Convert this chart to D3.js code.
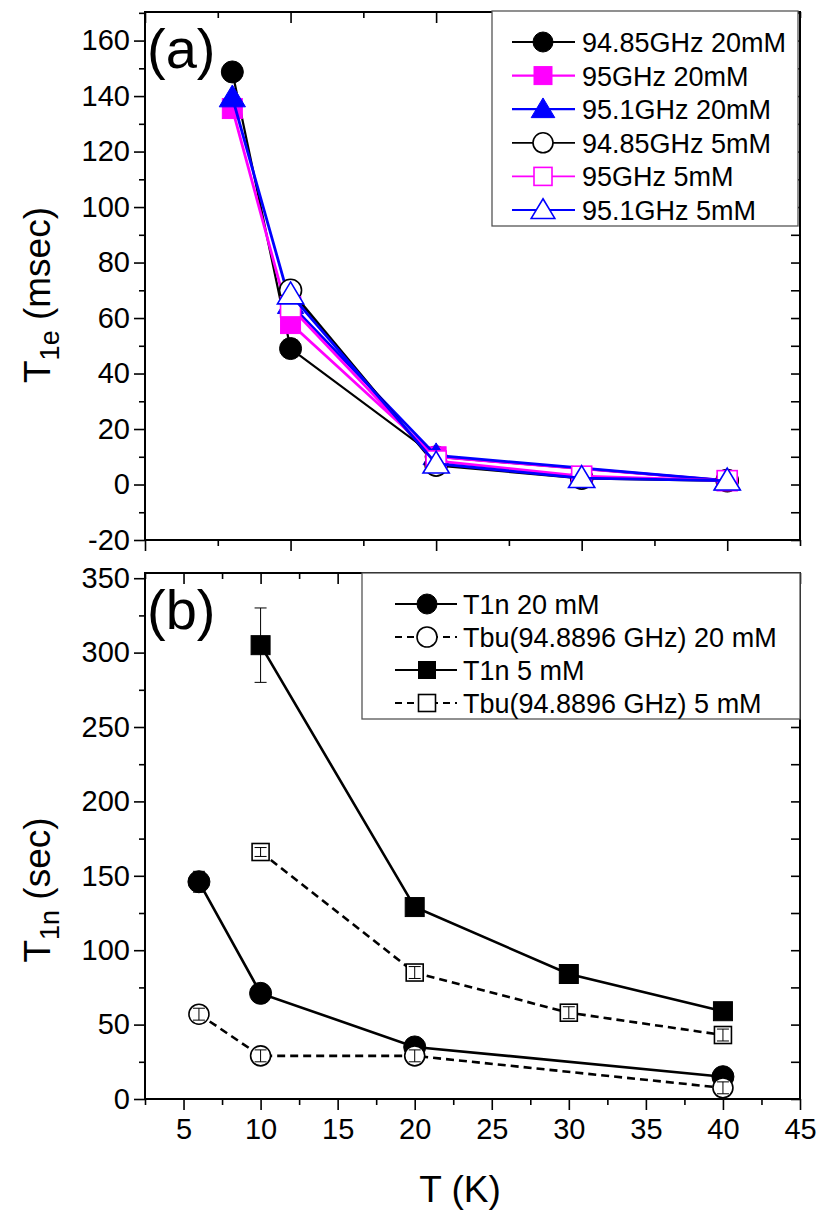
<!DOCTYPE html>
<html>
<head>
<meta charset="utf-8">
<script src="https://cdn.jsdelivr.net/npm/d3@7"></script>
<style>
  body { margin: 0; background: #fff; }
  text { font-family: "Liberation Sans", Arial, sans-serif; fill: #000; }
</style>
</head>
<body>
<script>
const width = 820;
const height = 1214;

// ---- data, panel (a): T1e (msec) ----
const tA20 = [6, 10, 20, 40];
const tA5 = [10, 20, 30, 40];
const t1e_9485_20 = [148.7, 49, 10, 1.4];
const t1e_95_20 = [135.5, 58, 10, 1.4];
const t1e_951_20 = [139.5, 65, 10.5, 1.4];
const t1e_9485_5 = [70, 7, 2.3, 1.4];
const t1e_95_5 = [64, 8.5, 3, 1.4];
const t1e_951_5 = [68.5, 7.5, 2.3, 1.4];
const legendA = ["94.85GHz 20mM", "95GHz 20mM", "95.1GHz 20mM", "94.85GHz 5mM", "95GHz 5mM", "95.1GHz 5mM"];

// ---- data, panel (b): T1n (sec) ----
const tB20 = [6, 10, 20, 40];
const tB5 = [10, 20, 30, 40];
const t1n_20 = [146, 71, 35, 15];
const t1n_20_err = [7, 3, 3, 2];
const tbu_20 = [57, 29, 29, 7.5];
const tbu_20_err = [4, 4, 4, 4];
const t1n_5 = [305, 129, 84, 59];
const t1n_5_err = [25, 3, 6, 3];
const tbu_5 = [166, 85, 58, 43];
const tbu_5_err = [3, 4, 4, 4];
const legendB = ["T1n 20 mM", "Tbu(94.8896 GHz) 20 mM", "T1n 5 mM", "Tbu(94.8896 GHz) 5 mM"];

const xTicksB = [5, 10, 15, 20, 25, 30, 35, 40, 45];
const yTicksA = [-20, 0, 20, 40, 60, 80, 100, 120, 140, 160];
const yTicksB = [0, 50, 100, 150, 200, 250, 300, 350];

const svg = d3.select("body").append("svg")
  .attr("width", width)
  .attr("height", height);

// panel frames
const pA = {left: 145, right: 800, top: 12, bottom: 540};
const pB = {left: 145, right: 800, top: 573, bottom: 1099};

const xA = d3.scaleLinear().domain([0, 45]).range([pA.left, pA.right]);
const yA = d3.scaleLinear().domain([-20, 170.3]).range([pA.bottom, pA.top]);
const xB = d3.scaleLinear().domain([2.5, 45]).range([pB.left, pB.right]);
const yB = d3.scaleLinear().domain([0, 353.5]).range([pB.bottom, pB.top]);

const tickFont = 29;
const fmt = d => String(d);  // plain hyphen for negatives, like the original

function frame(p, x, y, xMajor, xMinor, yMajor, yMinor, xLabels) {
  const g = svg.append("g");
  // bottom axis (ticks out)
  g.append("g").attr("transform", `translate(0,${p.bottom})`)
    .call(d3.axisBottom(x).tickValues(xMinor).tickSize(6).tickFormat(""));
  g.append("g").attr("transform", `translate(0,${p.bottom})`)
    .call(d3.axisBottom(x).tickValues(xMajor).tickSize(11).tickPadding(8)
      .tickFormat(xLabels ? fmt : ""));
  // left axis (ticks out)
  g.append("g").attr("transform", `translate(${p.left},0)`)
    .call(d3.axisLeft(y).tickValues(yMinor).tickSize(6).tickFormat(""));
  g.append("g").attr("transform", `translate(${p.left},0)`)
    .call(d3.axisLeft(y).tickValues(yMajor).tickSize(11).tickPadding(4).tickFormat(fmt));
  // top axis (ticks in)
  g.append("g").attr("transform", `translate(0,${p.top})`)
    .call(d3.axisBottom(x).tickValues(xMinor).tickSize(6).tickFormat(""));
  g.append("g").attr("transform", `translate(0,${p.top})`)
    .call(d3.axisBottom(x).tickValues(xMajor).tickSize(11).tickFormat(""));
  // right axis (ticks in)
  g.append("g").attr("transform", `translate(${p.right},0)`)
    .call(d3.axisLeft(y).tickValues(yMinor.concat(yMajor)).tickSize(9).tickFormat(""));

  g.selectAll(".domain").remove();
  g.selectAll(".tick line").attr("stroke", "#000").attr("stroke-width", 1.6);
  g.selectAll(".tick text").style("font-size", tickFont + "px")
    .style("font-family", "'Liberation Sans', Arial, sans-serif").attr("fill", "#000");
  g.append("rect")
    .attr("x", p.left).attr("y", p.top)
    .attr("width", p.right - p.left).attr("height", p.bottom - p.top)
    .attr("fill", "none").attr("stroke", "#000").attr("stroke-width", 2);
  return g;
}

function range(a, b, s) { return d3.range(a, b + 1e-9, s); }

// ---- markers ----
function marker(g, shape, cx, cy, color, filled, size) {
  const fill = filled ? color : "#fff";
  const sw = filled ? 1 : 1.6;
  if (shape === "circle") {
    g.append("circle").attr("cx", cx).attr("cy", cy).attr("r", size)
      .attr("fill", fill).attr("stroke", color).attr("stroke-width", sw);
  } else if (shape === "square") {
    g.append("rect").attr("x", cx - size).attr("y", cy - size)
      .attr("width", 2 * size).attr("height", 2 * size)
      .attr("fill", fill).attr("stroke", color).attr("stroke-width", sw);
  } else {
    const s = size * 1.25;
    g.append("path")
      .attr("d", `M${cx},${cy - s}L${cx + s * 1.05},${cy + s * 0.75}L${cx - s * 1.05},${cy + s * 0.75}Z`)
      .attr("fill", fill).attr("stroke", color).attr("stroke-width", sw);
  }
}

// ================= panel (a) =================
frame(pA, xA, yA, range(0, 40, 10), range(5, 45, 10), yTicksA, range(-10, 170, 20), false);

const seriesA = [
  {t: tA20, v: t1e_9485_20, color: "#000", shape: "circle", filled: true, w: 2.2},
  {t: tA20, v: t1e_95_20, color: "#ff00ff", shape: "square", filled: true, w: 2.8},
  {t: tA20, v: t1e_951_20, color: "#0000ff", shape: "triangle", filled: true, w: 2.8},
  {t: tA5, v: t1e_9485_5, color: "#000", shape: "circle", filled: false, w: 2.8},
  {t: tA5, v: t1e_95_5, color: "#ff00ff", shape: "square", filled: false, w: 2.8},
  {t: tA5, v: t1e_951_5, color: "#0000ff", shape: "triangle", filled: false, w: 2.8}
];
const sizeA = {circle: 11, square: 10, triangle: 10};

const gA = svg.append("g");
seriesA.forEach(s => {
  const line = d3.line().x((d, i) => xA(s.t[i])).y(d => yA(d));
  gA.append("path").datum(s.v).attr("d", line)
    .attr("fill", "none").attr("stroke", s.color).attr("stroke-width", s.w);
  s.v.forEach((d, i) => marker(gA, s.shape, xA(s.t[i]), yA(d), s.color, s.filled, sizeA[s.shape]));
});

// legend (a)
const lgA = svg.append("g");
lgA.append("rect").attr("x", 492).attr("y", 11).attr("width", 306).attr("height", 215)
  .attr("fill", "#fff").attr("stroke", "#555").attr("stroke-width", 1.3);
legendA.forEach((name, i) => {
  const s = seriesA[i];
  const yy = 42 + i * 33.6;
  lgA.append("line").attr("x1", 512).attr("x2", 575).attr("y1", yy).attr("y2", yy)
    .attr("stroke", s.color).attr("stroke-width", s.filled ? 2.2 : 1.8);
  marker(lgA, s.shape, 543, yy, s.color, s.filled, s.shape === "circle" ? 10 : 9);
  lgA.append("text").attr("x", 582).attr("y", yy + 10).style("font-size", "27px").text(name);
});

svg.append("text").attr("x", 147).attr("y", 68).style("font-size", "56px").text("(a)");

// y title (a)
const ttA = svg.append("text").attr("transform", "translate(50,295) rotate(-90)")
  .attr("text-anchor", "middle").style("font-size", "37px");
ttA.append("tspan").text("T");
ttA.append("tspan").attr("dy", 9).style("font-size", "27px").text("1e");
ttA.append("tspan").attr("dy", -9).text(" (msec)");

// ================= panel (b) =================
frame(pB, xB, yB, xTicksB, range(2.5, 42.5, 5), yTicksB, range(25, 350, 50), true);

const seriesB = [
  {t: tB20, v: t1n_20, e: t1n_20_err, shape: "circle", filled: true, dash: null},
  {t: tB20, v: tbu_20, e: tbu_20_err, shape: "circle", filled: false, dash: "8,5"},
  {t: tB5, v: t1n_5, e: t1n_5_err, shape: "square", filled: true, dash: null},
  {t: tB5, v: tbu_5, e: tbu_5_err, shape: "square", filled: false, dash: "8,5"}
];
const sizeB = {circle: 11, square: 9.5};

const gB = svg.append("g");
seriesB.forEach(s => {
  const line = d3.line().x((d, i) => xB(s.t[i])).y(d => yB(d));
  gB.append("path").datum(s.v).attr("d", line)
    .attr("fill", "none").attr("stroke", "#000").attr("stroke-width", 2.6)
    .attr("stroke-dasharray", s.dash);
});
seriesB.forEach(s => {
  s.v.forEach((d, i) => {
    const cx = xB(s.t[i]);
    const sz = s.filled ? sizeB[s.shape] : sizeB[s.shape] - 1;
    marker(gB, s.shape, cx, yB(d), "#000", s.filled, sz);
    const y0 = yB(d - s.e[i]), y1 = yB(d + s.e[i]);
    gB.append("line").attr("x1", cx).attr("x2", cx).attr("y1", y0).attr("y2", y1)
      .attr("stroke", "#000").attr("stroke-width", 1);
    [y0, y1].forEach(yy => gB.append("line").attr("x1", cx - 6).attr("x2", cx + 6)
      .attr("y1", yy).attr("y2", yy).attr("stroke", "#000").attr("stroke-width", 1));
  });
});

// legend (b)
const lgB = svg.append("g");
lgB.append("rect").attr("x", 362).attr("y", 573).attr("width", 438).attr("height", 146)
  .attr("fill", "#fff").attr("stroke", "#555").attr("stroke-width", 1.3);
legendB.forEach((name, i) => {
  const s = seriesB[i];
  const yy = 604 + i * 33;
  lgB.append("line").attr("x1", 395).attr("x2", 457).attr("y1", yy).attr("y2", yy)
    .attr("stroke", "#000").attr("stroke-width", 2).attr("stroke-dasharray", s.dash ? "7,5" : null);
  marker(lgB, s.shape, 427, yy, "#000", s.filled, s.shape === "circle" ? 10 : 8.5);
  lgB.append("text").attr("x", 463).attr("y", yy + 10).style("font-size", "27px").text(name);
});

svg.append("text").attr("x", 147).attr("y", 629).style("font-size", "56px").text("(b)");

// y title (b)
const ttB = svg.append("text").attr("transform", "translate(50,890) rotate(-90)")
  .attr("text-anchor", "middle").style("font-size", "37px");
ttB.append("tspan").text("T");
ttB.append("tspan").attr("dy", 9).style("font-size", "27px").text("1n");
ttB.append("tspan").attr("dy", -9).text(" (sec)");

// x title
svg.append("text").attr("x", 460).attr("y", 1202).attr("text-anchor", "middle")
  .style("font-size", "37px").text("T (K)");
</script>
</body>
</html>
